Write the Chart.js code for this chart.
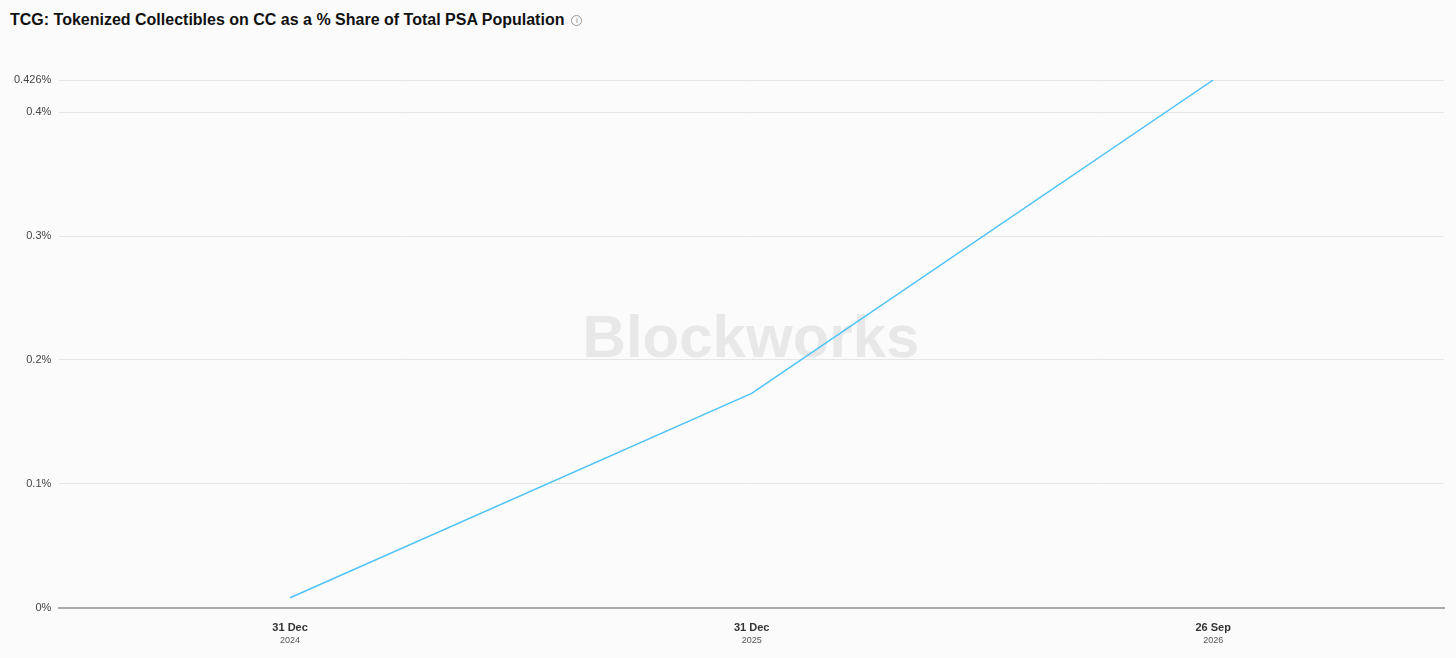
<!DOCTYPE html>
<html><head><meta charset="utf-8">
<script src="https://cdn.jsdelivr.net/npm/chart.js@4/dist/chart.umd.min.js"></script>
<style>
html,body{margin:0;padding:0;background:#fbfbfb;font-family:"Liberation Sans",Arial,sans-serif;}
#t{position:absolute;left:10px;top:11px;font-weight:bold;font-size:16px;color:#111;}
#t span{font-weight:normal;color:#888;margin-left:7px;border:1px solid #999;border-radius:50%;display:inline-block;width:9px;height:9px;line-height:9px;text-align:center;font-size:8px;vertical-align:2px;}
#w{position:absolute;left:0;top:0;width:1456px;height:658px;}
</style></head><body>
<div id="t">TCG: Tokenized Collectibles on CC as a % Share of Total PSA Population<span>i</span></div>
<div id="w"><canvas id="c"></canvas></div>
<script>
const categories=["31 Dec|2024","31 Dec|2025","26 Sep|2026"];
const shareValues=[0.008,0.173,0.426];
const yTicks=[0,0.1,0.2,0.3,0.4,0.426];
const yMax=0.426;

const extras={id:'extras',
 beforeDatasetsDraw(ch){const c=ch.ctx;c.save();c.font='bold 60px "Liberation Sans",Arial';c.fillStyle='#e8e8e8';c.textAlign='center';c.textBaseline='middle';c.fillText('Blockworks',751,340);c.restore();},
 afterDraw(ch){const c=ch.ctx,x=ch.scales.x;c.save();c.textAlign='center';
  categories.forEach((l,i)=>{const p=x.getPixelForTick(i);const [a,b]=l.split('|');
   c.font='bold 11px "Liberation Sans",Arial';c.fillStyle='#333';c.fillText(a,p,631);
   c.font='9px "Liberation Sans",Arial';c.fillStyle='#555';c.fillText(b,p,643);});
  c.restore();}};

new Chart(document.getElementById('c'),{type:'line',
 data:{labels:categories,datasets:[{data:shareValues,borderColor:'#4fc3f7',borderWidth:1.5,pointRadius:0,tension:0,fill:false}]},
 options:{responsive:true,maintainAspectRatio:false,animation:false,
  layout:{padding:{top:80,right:12,left:6,bottom:8}},
  plugins:{legend:{display:false},tooltip:{enabled:false}},
  scales:{
   x:{offset:true,grid:{display:false,drawTicks:false},border:{color:'#aaa',width:2},ticks:{callback:()=>['',''],font:{size:11},padding:8}},
   y:{min:0,max:yMax,afterBuildTicks:s=>{s.ticks=yTicks.map(v=>({value:v}));},
      grid:{color:'#e6e6e6',drawTicks:false},border:{display:false},
      ticks:{padding:8,color:'#444',font:{size:11,family:'"Liberation Sans",Arial'},callback:v=>v===0?'0%':(+v.toFixed(3))+'%'}}
  }},
 plugins:[extras]});
</script></body></html>
